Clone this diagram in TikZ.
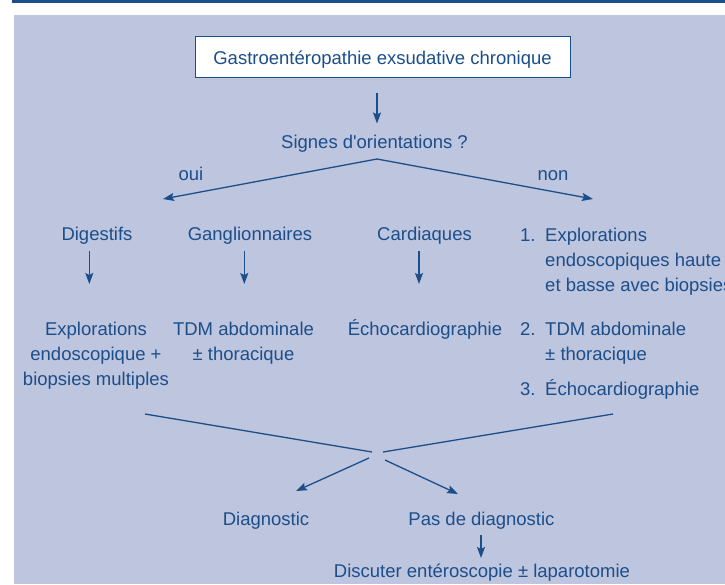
\documentclass[tikz,border=0pt]{standalone}
\usepackage{fontspec}
\setmainfont{Liberation Sans}
\usetikzlibrary{arrows.meta}
\definecolor{ink}{RGB}{28,78,138}
\definecolor{panel}{RGB}{190,197,222}
\tikzset{>={Stealth[length=11pt,width=8pt,inset=2pt]}}
\tikzset{
  txt/.style={inner sep=0pt, text=ink, font=\fontsize{18.5}{25}\selectfont, anchor=base},
  link/.style={draw=ink, line width=1.3pt},
}
\newcommand{\rows}[1]{\begin{tabular}[t]{@{}c@{}}#1\end{tabular}}

\begin{document}
\begin{tikzpicture}[x=1pt,y=-1pt]
  \useasboundingbox (0,0) rectangle (725,584);
  \fill[white] (0,0) rectangle (725,584);
  \fill[ink] (12,0) rectangle (725,3);
  \fill[panel] (14,15) rectangle (725,584);

  % titre
  \node[txt, anchor=center, fill=white, draw=ink, line width=1pt,
        minimum width=375pt, minimum height=41pt, text height=19pt, text depth=3pt]
        (title) at (382.5,56.5) {Gastroentéropathie exsudative chronique};
  \node[txt] (signes) at (374.5,148.5) {Signes d\textquotesingle orientations ?};
  \node[txt] (oui) at (191,180) {oui};
  \node[txt] (non) at (553,180) {non};

  % orientations
  \node[txt] (dig) at (97,240.5) {Digestifs};
  \node[txt] (gang) at (250,240.5) {Ganglionnaires};
  \node[txt] (card) at (424.5,240.5) {Cardiaques};
  \node[txt, anchor=base west] (list) at (520,241) {%
    \begin{tabular}[t]{@{}l@{\hspace{9.6pt}}l@{}}
      1. & Explorations\\
         & endoscopiques haute\\
         & et basse avec biopsies\\[19pt]
      2. & TDM abdominale\\
         & ± thoracique\\[10pt]
      3. & Échocardiographie
    \end{tabular}};

  % examens
  \node[txt] (explo) at (96,335) {\rows{Explorations\\endoscopique +\\biopsies multiples}};
  \node[txt] (tdm) at (243.5,335) {\rows{TDM abdominale\\± thoracique}};
  \node[txt] (echo) at (425,335) {Échocardiographie};

  \node[txt] (diag) at (266,525.5) {Diagnostic};
  \node[txt] (pasdiag) at (481.5,525.5) {Pas de diagnostic};
  \node[txt] (discut) at (482,577.5) {Discuter entéroscopie ± laparotomie};

  \coordinate (fork) at (377,159);
  \coordinate (yes) at (163,199);
  \coordinate (no) at (593,199);
  \coordinate (lstart) at (145,414);
  \coordinate (rstart) at (613,414);
  \coordinate (lend) at (372,452);
  \coordinate (rend) at (383,452);

  \begin{scope}[link,->]
    \draw (title.south) ++(-5.5,15) -- +(0,31);
    \draw (fork) -- (yes);
    \draw (fork) -- (no);
    \draw (dig.base) ++(-7.7,10.5) -- +(0,33);
    \draw (gang.base) ++(-5.7,10.5) -- +(0,33);
    \draw (card.base) ++(-5.5,10.5) -- +(0,33);
    \draw[<-] (diag.base) ++(30,-34.5) -- +(73,-33);
    \draw[<-] (pasdiag.base) ++(-23.5,-31.5) -- +(-73,-34);
    \draw (pasdiag.base) ++(-0.5,9.5) -- +(0,23);
  \end{scope}
  \draw[link] (lstart) -- (lend);
  \draw[link] (rstart) -- (rend);
\end{tikzpicture}
\end{document}
